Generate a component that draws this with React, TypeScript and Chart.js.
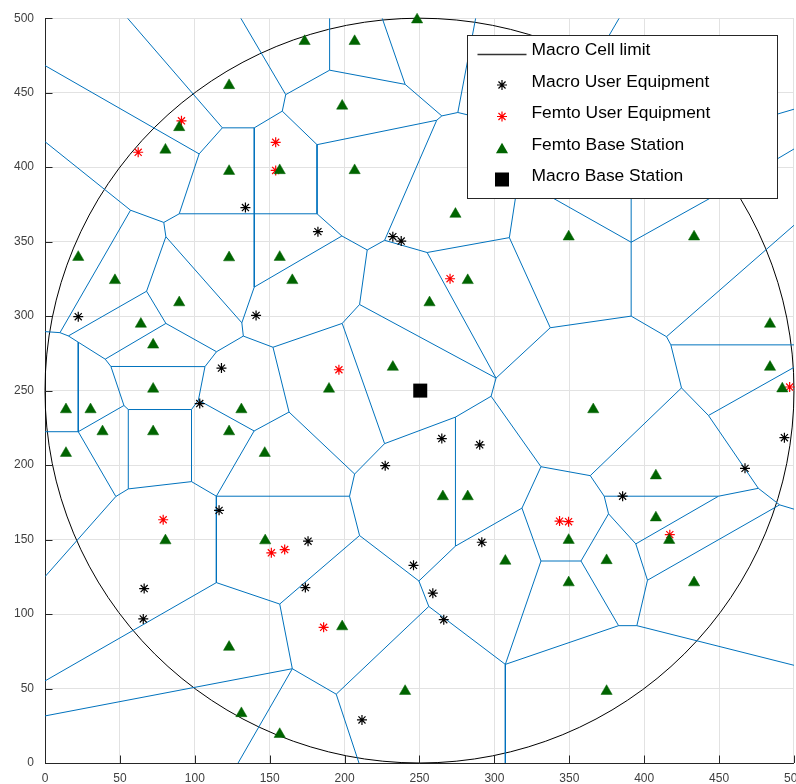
import { useEffect, useRef } from 'react';
import { Chart, registerables } from 'chart.js';

Chart.register(...registerables);

// Axis tick values (both axes share the same 0..500 range)
const axisTicks = [0, 50, 100, 150, 200, 250, 300, 350, 400, 450, 500];

// Macro cell: centre and radius of the coverage limit
const macroCellCenter: [number, number] = [250, 250];
const macroCellRadius = 250;

const macroBaseStations: [number, number][] = [[250.5, 250]];

const femtoBaseStations: [number, number][] = [
  [122.9, 454.9], [89.6, 426.7], [80.4, 411.6], [122.9, 397.3], [122.9, 339.3], [22.2, 339.6],
  [248.4, 499], [173.3, 484.5], [206.7, 484.5], [198.4, 441.1], [156.7, 397.8], [206.7, 397.8],
  [274, 368.5], [156.7, 339.6], [349.6, 353.3], [433.3, 353.3], [46.7, 324], [89.6, 309.1],
  [64, 294.7], [72.2, 280.7], [72.2, 251.1], [14, 237.3], [30.4, 237.3], [38.4, 222.5],
  [72.2, 222.5], [131.1, 237.3], [122.9, 222.5], [14, 208], [146.7, 208], [165.1, 324],
  [282.2, 324], [256.7, 309.1], [232.2, 265.8], [189.6, 251.1], [265.6, 178.9], [282.2, 178.9],
  [484, 294.7], [484, 265.8], [492.2, 251.3], [366, 237.3], [407.8, 192.9], [407.8, 164.7],
  [80.4, 149.3], [122.9, 77.8], [131.1, 33.3], [147, 149.3], [198.4, 91.6], [240.4, 48.2],
  [156.7, 19.3], [307.3, 135.6], [349.6, 149.6], [374.9, 136], [349.6, 121.1], [416.7, 149.6],
  [433.3, 121.1], [374.9, 48.2],
];

const macroUsers: [number, number][] = [
  [133.8, 372.9], [182.2, 356.7], [232.2, 353.3], [237.8, 350.4], [22.2, 299.6], [140.9, 300.5],
  [117.8, 265.1], [103.3, 241.3], [264.9, 217.8], [290.2, 213.6], [227.1, 199.6], [385.6, 179.1],
  [467.3, 197.8], [493.6, 218.4], [116.2, 169.6], [175.6, 148.9], [291.6, 148.2], [66.2, 117.1],
  [65.6, 96.7], [173.8, 117.8], [246, 132.7], [258.9, 114], [266.2, 96.2], [211.6, 28.9],
];

const femtoUsers: [number, number][] = [
  [62.2, 410], [91.1, 431.1], [154, 416.7], [154, 397.8], [270.4, 325.1], [196.2, 264],
  [78.9, 163.3], [151.1, 141.1], [160, 143.3], [186, 91.1], [343.5, 162.4], [349.5, 162],
  [417.1, 153.3], [497.1, 252.4],
];

// Femto cell boundaries (Voronoi edges) as polylines
const cellBoundaries: [number, number][][] = [
  [[0, 468.2], [102.9, 408.9], [89.6, 368.7], [79.3, 362.9], [57.1, 371.1], [0, 417.1]],
  [[102.9, 408.9], [118.4, 426.4], [55.1, 500]],
  [[118.4, 426.4], [139.7, 426.4], [158.4, 437.6], [160.7, 448.7], [130.7, 500]],
  [[160.7, 448.7], [190, 465.1], [190, 500]],
  [[190, 465.1], [240.4, 455.6], [225.1, 500]],
  [[240.4, 455.6], [264.9, 434.4], [275.6, 436.7], [287.5, 500]],
  [[275.6, 436.7], [290, 433.2]],
  [[158.4, 437.6], [181.6, 415.1], [181.6, 368.7], [89.6, 368.7]],
  [[181.6, 415.1], [261.5, 431.5], [264.9, 434.4]],
  [[261.5, 431.5], [226.7, 350.9], [215.1, 344.4], [198.2, 353.8], [181.6, 368.7]],
  [[226.7, 350.9], [255.1, 342.7], [310, 352.7], [316, 392]],
  [[139.7, 426.4], [139.7, 319.5], [198.2, 353.8]],
  [[215.1, 344.4], [210, 307.8], [198.4, 295.1], [152.2, 279.1], [132.4, 286.6], [131.4, 295.5], [139.7, 319.5]],
  [[131.4, 295.5], [80.7, 353.3], [79.3, 362.9]],
  [[80.7, 353.3], [67.8, 316.7], [15.6, 286.7], [10, 288.9], [57.1, 371.1]],
  [[10, 288.9], [0, 289.6]],
  [[67.8, 316.7], [80.7, 295.1], [114.5, 276.1], [132.4, 286.6]],
  [[80.7, 295.1], [40.2, 271.1], [22.2, 282.5], [15.6, 286.7]],
  [[22.2, 282.5], [22.2, 222.4], [0, 222.4]],
  [[40.2, 271.1], [44, 266.2], [106.8, 266.1], [114.5, 276.1]],
  [[44, 266.2], [52.7, 240], [55.6, 237.3], [97.8, 237.3], [102.4, 243.6], [106.8, 266.1]],
  [[52.7, 240], [22.2, 222.4], [47.3, 178.9], [55.6, 184], [55.6, 237.3]],
  [[47.3, 178.9], [0, 125.1]],
  [[55.6, 184], [97.8, 188.9], [97.8, 237.3]],
  [[97.8, 188.9], [114.4, 179.1], [139.6, 222.9], [102.4, 243.6]],
  [[139.6, 222.9], [162.9, 235.6], [152.2, 279.1]],
  [[162.9, 235.6], [206.7, 194], [226.7, 214.4], [198.4, 295.1]],
  [[206.7, 194], [203.3, 179.1], [114.4, 179.1]],
  [[114.4, 179.1], [114.4, 121.1], [0, 55.1]],
  [[114.4, 121.1], [156.7, 106.7], [210, 152.7], [203.3, 179.1]],
  [[156.7, 106.7], [165.1, 63.3], [0, 31.6]],
  [[165.1, 63.3], [128.9, 0]],
  [[165.1, 63.3], [194.4, 46.2], [209.6, 0]],
  [[194.4, 46.2], [256.2, 105.1], [249.6, 122.2], [210, 152.7]],
  [[249.6, 122.2], [274, 145.6], [274, 232.2], [226.7, 214.4]],
  [[274, 232.2], [297.8, 246.2], [301.1, 258.4], [210, 307.8]],
  [[301.1, 258.4], [255.1, 342.7]],
  [[301.1, 258.4], [337.3, 292.2], [310, 352.7]],
  [[337.3, 292.2], [391.3, 300], [391.3, 349.6], [391.3, 392]],
  [[391.3, 349.6], [330, 384.4]],
  [[391.3, 349.6], [455, 385.3]],
  [[391.3, 300], [414.9, 286.2], [500, 361]],
  [[414.9, 286.2], [417.8, 280.7], [500, 280.7]],
  [[417.8, 280.7], [424.9, 251.8], [364, 192.9], [331.1, 198.9], [297.8, 246.2]],
  [[331.1, 198.9], [318.4, 171.1], [274, 145.6]],
  [[318.4, 171.1], [331.1, 135.6], [357.8, 135.6], [376.2, 167.3], [373.3, 179.1], [364, 192.9]],
  [[373.3, 179.1], [449.6, 179.1], [476.2, 184.4], [442.9, 233.3], [424.9, 251.8]],
  [[442.9, 233.3], [500, 265.6]],
  [[476.2, 184.4], [490.4, 173.3], [500, 170.4]],
  [[490.4, 173.3], [402.2, 122.7], [394.4, 147.1], [376.2, 167.3]],
  [[394.4, 147.1], [449.6, 179.1]],
  [[402.2, 122.7], [395.1, 92.2], [382.9, 92.2], [357.8, 135.6]],
  [[395.1, 92.2], [500, 65.6]],
  [[382.9, 92.2], [307.3, 66.2], [256.2, 105.1]],
  [[307.3, 66.2], [331.1, 135.6]],
  [[307.3, 66.2], [307.3, 0]],
  [[374, 484], [383.3, 500]],
  [[478, 399.1], [500, 412.2]],
  [[478, 432.4], [500, 438.9]],
];

const legendLabels = [
  'Macro Cell limit',
  'Macro User Equipment',
  'Femto User Equipment',
  'Femto Base Station',
  'Macro Base Station',
];

const BLUE = '#0072BD';
const GREEN = '#006400';
const RED = '#ff0000';
const AXIS = '#262626';
const LEGEND_FONT = '17.4px "Liberation Sans", Arial, Helvetica, sans-serif';

const toXY = (pts: [number, number][]) => pts.map(([x, y]) => ({ x, y }));

function drawStar(ctx: CanvasRenderingContext2D, x: number, y: number, r: number, color: string) {
  ctx.save();
  ctx.strokeStyle = color;
  ctx.lineWidth = 1.2;
  ctx.beginPath();
  for (let k = 0; k < 4; k++) {
    const a = (k * Math.PI) / 4;
    ctx.moveTo(x - Math.cos(a) * r, y - Math.sin(a) * r);
    ctx.lineTo(x + Math.cos(a) * r, y + Math.sin(a) * r);
  }
  ctx.stroke();
  ctx.restore();
}

const macroCellPlugin = {
  id: 'macroCell',
  beforeDatasetsDraw(chart: any) {
    const { ctx, scales } = chart;
    const xs = scales.x;
    const ys = scales.y;
    const cx = xs.getPixelForValue(macroCellCenter[0]);
    const cy = ys.getPixelForValue(macroCellCenter[1]);
    const rx = Math.abs(xs.getPixelForValue(macroCellCenter[0] + macroCellRadius) - cx);
    const ry = Math.abs(ys.getPixelForValue(macroCellCenter[1] + macroCellRadius) - cy);
    ctx.save();
    ctx.strokeStyle = '#000';
    ctx.lineWidth = 1;
    ctx.beginPath();
    ctx.ellipse(cx, cy, rx, ry, 0, 0, Math.PI * 2);
    ctx.stroke();
    ctx.restore();
  },
};

const tickMarkPlugin = {
  id: 'tickMarks',
  afterDatasetsDraw(chart: any) {
    const { ctx, chartArea, scales } = chart;
    const len = 7.5;
    ctx.save();
    ctx.strokeStyle = AXIS;
    ctx.lineWidth = 1;
    ctx.beginPath();
    for (const v of axisTicks) {
      const px = Math.round(scales.x.getPixelForValue(v)) + 0.5;
      ctx.moveTo(px, chartArea.bottom);
      ctx.lineTo(px, chartArea.bottom - len);
      const py = Math.round(scales.y.getPixelForValue(v)) + 0.5;
      ctx.moveTo(chartArea.left, py);
      ctx.lineTo(chartArea.left + len, py);
    }
    ctx.stroke();
    ctx.restore();
  },
};

const legendBoxPlugin = {
  id: 'legendBox',
  afterDraw(chart: any) {
    const { ctx, chartArea } = chart;
    const w = 310;
    const h = 163;
    const left = Math.round(chartArea.right - 16.5 - w) + 0.5;
    const top = Math.round(chartArea.top + 16.5) + 0.5;
    ctx.save();
    ctx.fillStyle = '#fff';
    ctx.fillRect(left, top, w, h);
    ctx.strokeStyle = AXIS;
    ctx.lineWidth = 1;
    ctx.strokeRect(left, top, w, h);

    const markerX = left + 34.5;
    const textX = left + 64;
    ctx.font = LEGEND_FONT;
    ctx.textBaseline = 'alphabetic';
    ctx.textAlign = 'left';
    legendLabels.forEach((label, i) => {
      const base = top + 19.5 + i * 31.5;
      const my = base - 1.5;
      if (i === 0) {
        ctx.strokeStyle = '#333';
        ctx.lineWidth = 1.3;
        ctx.beginPath();
        ctx.moveTo(left + 10, Math.round(my) + 0.5);
        ctx.lineTo(left + 59, Math.round(my) + 0.5);
        ctx.stroke();
      } else if (i === 1) {
        drawStar(ctx, markerX, my, 5, '#000');
      } else if (i === 2) {
        drawStar(ctx, markerX, my, 5, RED);
      } else if (i === 3) {
        const r = 7;
        ctx.fillStyle = GREEN;
        ctx.beginPath();
        ctx.moveTo(markerX, my - r + r / 4);
        ctx.lineTo(markerX + r * 0.866, my + r / 2 + r / 4);
        ctx.lineTo(markerX - r * 0.866, my + r / 2 + r / 4);
        ctx.closePath();
        ctx.fill();
      } else {
        ctx.fillStyle = '#000';
        ctx.fillRect(markerX - 7, my - 7, 14, 14);
      }
      ctx.fillStyle = '#000';
      ctx.fillText(label, textX, base);
    });
    ctx.restore();
  },
};

export default function App() {
  const canvasRef = useRef<HTMLCanvasElement | null>(null);

  useEffect(() => {
    const canvas = canvasRef.current;
    if (!canvas) return;

    const boundaryData: { x: number | null; y: number | null }[] = [];
    cellBoundaries.forEach((line) => {
      line.forEach(([x, y]) => boundaryData.push({ x, y }));
      boundaryData.push({ x: null, y: null });
    });

    const axisCommon = (afterFit: (s: any) => void) => ({
      type: 'linear' as const,
      min: 0,
      max: 500,
      ticks: {
        stepSize: 50,
        maxRotation: 0,
        autoSkip: false,
        color: '#404040',
        font: { family: '"Liberation Sans", Arial, Helvetica, sans-serif', size: 12 },
      },
      grid: { color: '#e2e2e2', lineWidth: 1, drawTicks: false },
      border: { display: true, color: AXIS, width: 1 },
      afterFit,
    });

    const xAxis: any = axisCommon((s) => { s.height = 21; });
    xAxis.ticks.padding = 8;
    const yAxis: any = axisCommon((s) => { s.width = 45; });
    yAxis.ticks.padding = 11;

    const chart = new Chart(canvas, {
      type: 'scatter',
      data: {
        datasets: [
          {
            label: 'Macro Base Station',
            data: toXY(macroBaseStations),
            pointStyle: 'rect',
            pointRadius: 9.9,
            backgroundColor: '#000',
            borderColor: '#000',
            borderWidth: 0,
            clip: false,
            order: 0,
          },
          {
            label: 'Femto Base Station',
            data: toXY(femtoBaseStations),
            pointStyle: 'triangle',
            pointRadius: 6.5,
            backgroundColor: GREEN,
            borderColor: GREEN,
            borderWidth: 0.5,
            clip: false,
            order: 1,
          },
          {
            label: 'Femto User Equipment',
            data: toXY(femtoUsers),
            pointStyle: 'star',
            pointRadius: 5,
            borderColor: RED,
            backgroundColor: RED,
            borderWidth: 1.2,
            clip: false,
            order: 2,
          },
          {
            label: 'Macro User Equipment',
            data: toXY(macroUsers),
            pointStyle: 'star',
            pointRadius: 5,
            borderColor: '#000',
            backgroundColor: '#000',
            borderWidth: 1.2,
            clip: false,
            order: 3,
          },
          {
            label: 'Cell boundaries',
            data: boundaryData as any,
            showLine: true,
            spanGaps: false,
            pointRadius: 0,
            borderColor: BLUE,
            borderWidth: 1,
            order: 5,
          },
        ],
      },
      options: {
        animation: false,
        responsive: false,
        devicePixelRatio: 1,
        events: [],
        layout: { padding: { top: 15, right: 18, left: 0, bottom: 0 } },
        plugins: {
          legend: { display: false },
          tooltip: { enabled: false },
        },
        scales: { x: xAxis, y: yAxis },
      },
      plugins: [macroCellPlugin, tickMarkPlugin, legendBoxPlugin],
    });

    return () => chart.destroy();
  }, []);

  return (
    <div
      style={{
        position: 'fixed',
        left: 0,
        top: 0,
        width: 796,
        height: 784,
        overflow: 'hidden',
        background: '#fff',
      }}
    >
      <canvas ref={canvasRef} width={812} height={784} style={{ display: 'block', width: 812, height: 784 }} />
    </div>
  );
}
